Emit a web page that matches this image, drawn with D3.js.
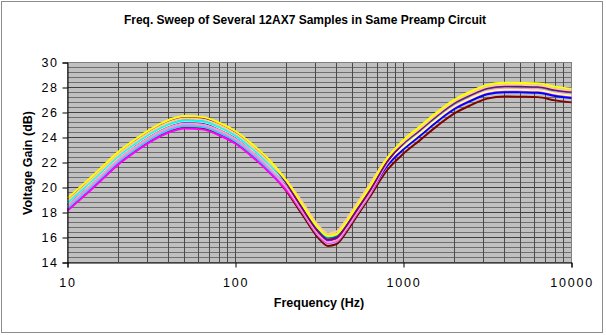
<!DOCTYPE html>
<html><head><meta charset="utf-8">
<script src="https://cdn.jsdelivr.net/npm/d3@7"></script>
<style>
body{margin:0;background:#fff}
svg{display:block}
text{font-family:"Liberation Sans",Arial,Helvetica,sans-serif;fill:#000}
</style>
</head><body>
<svg id="chart" width="606" height="335"></svg>
<script>
const title = "Freq. Sweep of Several 12AX7 Samples in Same Preamp Circuit";
const xLabel = "Frequency (Hz)";
const yLabel = "Voltage Gain (dB)";
const xTickValues = [10, 100, 1000, 10000];
const yTickValues = [14, 16, 18, 20, 22, 24, 26, 28, 30];

const freqs = [10,12.5,16,20,25,31.5,40,50,63,80,100,125,160,200,250,315,355,400,450,500,630,800,1000,1250,1600,2000,2500,3150,4000,5000,6300,8000,10000];

const sampleYellow = [19.14,20.29,21.62,22.83,23.80,24.69,25.40,25.72,25.65,25.18,24.50,23.49,22.16,20.59,18.62,16.68,16.13,16.28,17.10,18.03,20.05,22.34,23.81,24.87,26.07,27.01,27.67,28.21,28.38,28.36,28.33,28.07,27.91];
const samplePurple = [19.06,20.21,21.54,22.75,23.72,24.61,25.32,25.64,25.57,25.10,24.42,23.41,22.08,20.40,18.32,16.38,15.83,15.98,16.80,17.73,19.75,22.07,23.56,24.62,25.82,26.76,27.42,27.96,28.13,28.11,28.08,27.82,27.66];
const sampleTeal = [18.89,20.04,21.37,22.58,23.55,24.44,25.15,25.47,25.40,24.93,24.25,23.24,21.91,20.39,18.47,16.53,15.98,16.13,16.95,17.88,19.90,22.12,23.51,24.57,25.77,26.71,27.37,27.91,28.08,28.06,28.03,27.77,27.61];
const sampleCyan = [18.79,19.94,21.27,22.48,23.45,24.34,25.05,25.37,25.30,24.83,24.15,23.14,21.81,20.39,18.57,16.63,16.08,16.23,17.05,17.98,20.00,22.27,23.71,24.77,25.97,26.91,27.57,28.11,28.28,28.26,28.23,27.97,27.81];
const sampleTan = [18.94,20.09,21.42,22.63,23.60,24.49,25.20,25.52,25.45,24.98,24.30,23.29,21.96,20.59,18.82,16.88,16.33,16.48,17.30,18.23,20.25,22.37,23.66,24.72,25.92,26.86,27.52,28.06,28.23,28.21,28.18,27.92,27.76];
const sampleLightYellow = [18.74,19.89,21.22,22.43,23.40,24.29,25.00,25.32,25.25,24.78,24.10,23.09,21.76,20.34,18.52,16.58,16.03,16.18,17.00,17.93,19.95,22.02,23.26,24.32,25.52,26.46,27.12,27.66,27.83,27.81,27.78,27.52,27.36];
const sampleRose = [18.54,19.69,21.02,22.23,23.20,24.09,24.80,25.12,25.05,24.58,23.90,22.89,21.56,20.04,18.12,16.18,15.63,15.78,16.60,17.53,19.55,21.92,23.46,24.52,25.72,26.66,27.32,27.86,28.03,28.01,27.98,27.72,27.56];
const sampleLavender = [18.49,19.64,20.97,22.18,23.15,24.04,24.75,25.07,25.00,24.53,23.85,22.84,21.51,20.07,18.22,16.28,15.73,15.88,16.70,17.63,19.65,21.92,23.36,24.42,25.62,26.56,27.22,27.76,27.93,27.91,27.88,27.62,27.46];
const samplePaleBlue = [18.39,19.54,20.87,22.08,23.05,23.94,24.65,24.97,24.90,24.43,23.75,22.74,21.41,19.91,18.02,16.08,15.53,15.68,16.50,17.43,19.45,21.72,23.16,24.22,25.42,26.36,27.02,27.56,27.73,27.71,27.68,27.42,27.26];
const sampleSkyBlue = [18.34,19.49,20.82,22.03,23.00,23.89,24.60,24.92,24.85,24.38,23.70,22.69,21.36,20.01,18.27,16.33,15.78,15.93,16.75,17.68,19.70,21.87,23.21,24.27,25.47,26.41,27.07,27.61,27.78,27.76,27.73,27.47,27.31];
const sampleBlue = [18.59,19.74,21.07,22.28,23.25,24.14,24.85,25.17,25.10,24.63,23.95,22.94,21.61,20.09,18.17,16.23,15.68,15.83,16.65,17.58,19.60,21.74,23.06,24.12,25.32,26.26,26.92,27.46,27.63,27.61,27.58,27.32,27.16];
const sampleMagenta = [18.14,19.29,20.62,21.83,22.80,23.69,24.40,24.72,24.65,24.18,23.50,22.49,21.16,19.81,18.07,16.13,15.58,15.73,16.55,17.48,19.50,21.77,23.21,24.27,25.47,26.41,27.07,27.61,27.78,27.76,27.73,27.47,27.31];
const sampleDarkRed = [18.24,19.39,20.72,21.93,22.90,23.79,24.50,24.82,24.75,24.28,23.60,22.59,21.26,19.74,17.82,15.88,15.33,15.48,16.30,17.23,19.25,21.40,22.71,23.77,24.97,25.91,26.57,27.11,27.28,27.26,27.23,26.97,26.81];

const seriesList = [sampleDarkRed, samplePaleBlue, sampleSkyBlue, sampleLavender, sampleMagenta, sampleBlue, sampleRose, sampleLightYellow, sampleTeal, sampleCyan, samplePurple, sampleTan, sampleYellow];
const seriesColors = ["#800000","#99CCFF","#33CCFF","#CC99FF","#FF00FF","#0000FF","#FF99CC","#FFFF99","#008080","#00FFFF","#800080","#FFCC99","#FFFF00"];

const svg = d3.select("#chart");
const L = 67.5, R = 571.5, T = 62.5, B = 262.5;
const x = d3.scaleLog().domain([10, 10000]).range([L, R]);
const y = d3.scaleLinear().domain([14, 30]).range([B, T]);

// chart border
svg.append("rect").attr("x", 1.5).attr("y", 1.5).attr("width", 601).attr("height", 331)
  .attr("fill", "#fff").attr("stroke", "#8c8c8c").attr("stroke-width", 1);

// plot area
svg.append("rect").attr("x", L).attr("y", T).attr("width", R - L).attr("height", B - T)
  .attr("fill", "#C0C0C0");

const g = svg.append("g");
const minorY = d3.range(0, 41).map(i => 14 + i * 0.4);
g.selectAll("line.hmin").data(minorY).join("line")
  .attr("x1", L).attr("x2", R)
  .attr("y1", d => Math.round(y(d) - 0.5) + 0.5).attr("y2", d => Math.round(y(d) - 0.5) + 0.5)
  .attr("stroke", "#6e6e6e").attr("stroke-width", 1);
const vx = [];
[10, 100, 1000].forEach(dec => { for (let k = 1; k <= 9; k++) vx.push(dec * k); });
vx.push(10000);
g.selectAll("line.v").data(vx).join("line")
  .attr("y1", T).attr("y2", B)
  .attr("x1", d => Math.round(x(d) - 0.5) + 0.5).attr("x2", d => Math.round(x(d) - 0.5) + 0.5)
  .attr("stroke", "#4a4a4a").attr("stroke-width", 1);
g.selectAll("line.hmaj").data(yTickValues).join("line")
  .attr("x1", L).attr("x2", R)
  .attr("y1", d => Math.round(y(d) - 0.5) + 0.5).attr("y2", d => Math.round(y(d) - 0.5) + 0.5)
  .attr("stroke", "#404040").attr("stroke-width", 1);

svg.append("rect").attr("x", L).attr("y", T).attr("width", R - L).attr("height", B - T)
  .attr("fill", "none").attr("stroke", "#808080");

const line = d3.line().x((d, i) => x(freqs[i])).y(d => y(d)).curve(d3.curveMonotoneX);
const lg = svg.append("g");
seriesList.forEach((s, i) => {
  lg.append("path").attr("d", line(s)).attr("fill", "none")
    .attr("stroke", seriesColors[i]).attr("stroke-width", 2).attr("stroke-linejoin", "round");
});

const yAxis = d3.axisLeft(y).tickValues(yTickValues).tickSize(5).tickPadding(4).tickFormat(d3.format("d"));
const ya = svg.append("g").attr("transform", `translate(${L},0)`).call(yAxis);
ya.select(".domain").attr("stroke", "#000");
ya.selectAll(".tick line").attr("stroke", "#000");
ya.selectAll("text").attr("font-size", "12.5px").attr("letter-spacing", "1.5px")
  .attr("font-family", "Liberation Sans, Arial, sans-serif");

const xAxis = d3.axisBottom(x).tickValues(xTickValues).tickSize(5).tickPadding(11).tickFormat(d3.format("d"));
const xa = svg.append("g").attr("transform", `translate(0,${B})`).call(xAxis);
xa.select(".domain").attr("stroke", "#000");
xa.selectAll(".tick line").attr("stroke", "#000");
xa.selectAll("text").attr("font-size", "12.5px").attr("letter-spacing", "1.8px")
  .attr("font-family", "Liberation Sans, Arial, sans-serif");

svg.append("text").attr("x", 305).attr("y", 24).attr("text-anchor", "middle")
  .attr("font-size", "12px").attr("font-weight", "bold").text(title);
svg.append("text").attr("x", 319).attr("y", 307).attr("text-anchor", "middle")
  .attr("font-size", "12.5px").attr("font-weight", "bold").text(xLabel);
svg.append("text").attr("transform", "translate(32,163) rotate(-90)").attr("text-anchor", "middle")
  .attr("font-size", "12.5px").attr("font-weight", "bold").text(yLabel);
</script>
</body></html>
